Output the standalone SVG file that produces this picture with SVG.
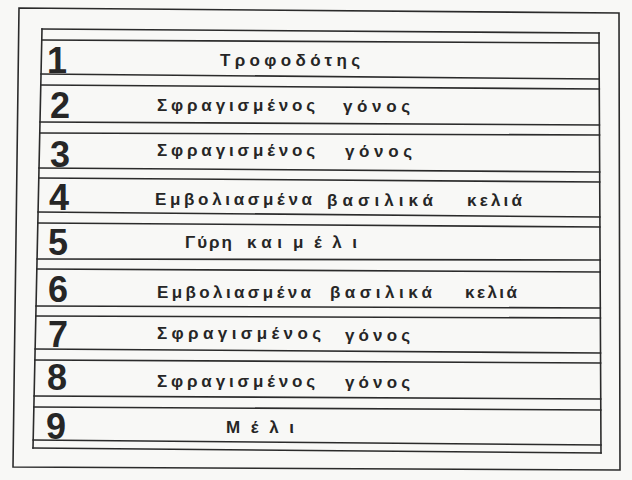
<svg xmlns="http://www.w3.org/2000/svg" width="632" height="480" viewBox="0 0 632 480">
<style>
.ln{stroke:#2b2b2b;stroke-width:1.6;fill:none;stroke-linecap:square}
.num{font-family:"Liberation Sans","Arial",sans-serif;font-weight:bold;font-size:36px;fill:#262626}
.lbl{font-family:"Liberation Sans","DejaVu Sans",sans-serif;font-weight:bold;font-size:17px;fill:#262626}
</style>
<rect x="0" y="0" width="632" height="480" fill="#f8f8f6"/>
<g id="frame">
<polygon class="ln" points="19,8 619,13 620,470 13,467"/>
<line class="ln" x1="42" y1="29" x2="33" y2="448"/>
<line class="ln" x1="599" y1="33" x2="601" y2="453"/>
<line class="ln" x1="42" y1="29" x2="599" y2="33"/>
<line class="ln" x1="41.8" y1="40" x2="599" y2="43"/>
<line class="ln" x1="41" y1="74" x2="599.2" y2="79"/>
<line class="ln" x1="40.8" y1="85" x2="599.3" y2="89"/>
<line class="ln" x1="40" y1="122" x2="599.4" y2="125"/>
<line class="ln" x1="39.8" y1="133" x2="599.5" y2="135"/>
<line class="ln" x1="39" y1="168" x2="599.7" y2="172"/>
<line class="ln" x1="38.8" y1="178" x2="599.7" y2="182"/>
<line class="ln" x1="38.1" y1="212" x2="599.9" y2="217"/>
<line class="ln" x1="37.8" y1="223" x2="599.9" y2="227"/>
<line class="ln" x1="37.1" y1="259" x2="600.1" y2="260"/>
<line class="ln" x1="36.8" y1="269" x2="600.1" y2="272"/>
<line class="ln" x1="36" y1="306" x2="600.3" y2="308"/>
<line class="ln" x1="35.8" y1="316" x2="600.4" y2="318"/>
<line class="ln" x1="35.1" y1="349" x2="600.5" y2="353"/>
<line class="ln" x1="34.9" y1="360" x2="600.6" y2="363"/>
<line class="ln" x1="34.1" y1="396" x2="600.7" y2="399"/>
<line class="ln" x1="33.9" y1="407" x2="600.8" y2="410"/>
<line class="ln" x1="33.2" y1="440" x2="600.9" y2="445"/>
<line class="ln" x1="33" y1="448" x2="601" y2="453"/>
</g>
<g id="connectors"></g>
<g id="row1"><text class="num" x="47" y="73">1</text><text class="lbl" x="220" y="66" textLength="140" lengthAdjust="spacing">Τροφοδότης</text></g>
<g id="row2"><text class="num" x="50" y="118">2</text><text class="lbl" x="157" y="111" textLength="158" lengthAdjust="spacing">Σφραγισμένος</text><text class="lbl" x="343" y="112" textLength="67" lengthAdjust="spacing">γόνος</text></g>
<g id="row3"><text class="num" x="50" y="167">3</text><text class="lbl" x="157" y="156" textLength="158" lengthAdjust="spacing">Σφραγισμένος</text><text class="lbl" x="345" y="157" textLength="67" lengthAdjust="spacing">γόνος</text></g>
<g id="row4"><text class="num" x="49" y="210">4</text><text class="lbl" x="155" y="205" textLength="157" lengthAdjust="spacing">Εμβολιασμένα</text><text class="lbl" x="327" y="206" textLength="106" lengthAdjust="spacing">βασιλικά</text><text class="lbl" x="467" y="206" textLength="55" lengthAdjust="spacing">κελιά</text></g>
<g id="row5"><text class="num" x="48" y="255">5</text><text class="lbl" x="185" y="248" textLength="47" lengthAdjust="spacing">Γύρη</text><text class="lbl" x="247" y="248" textLength="35" lengthAdjust="spacing">και</text><text class="lbl" x="293" y="248" textLength="64" lengthAdjust="spacing">μέλι</text></g>
<g id="row6"><text class="num" x="48" y="302">6</text><text class="lbl" x="157" y="298" textLength="154" lengthAdjust="spacing">Εμβολιασμένα</text><text class="lbl" x="330" y="298" textLength="102" lengthAdjust="spacing">βασιλικά</text><text class="lbl" x="465" y="298" textLength="52" lengthAdjust="spacing">κελιά</text></g>
<g id="row7"><text class="num" x="48" y="347">7</text><text class="lbl" x="157" y="339" textLength="164" lengthAdjust="spacing">Σφραγισμένος</text><text class="lbl" x="345" y="341" textLength="65" lengthAdjust="spacing">γόνος</text></g>
<g id="row8"><text class="num" x="47" y="390">8</text><text class="lbl" x="157" y="387" textLength="158" lengthAdjust="spacing">Σφραγισμένος</text><text class="lbl" x="345" y="388" textLength="65" lengthAdjust="spacing">γόνος</text></g>
<g id="row9"><text class="num" x="46" y="439">9</text><text class="lbl" x="226" y="433" textLength="68" lengthAdjust="spacing">Μέλι</text></g>
</svg>
